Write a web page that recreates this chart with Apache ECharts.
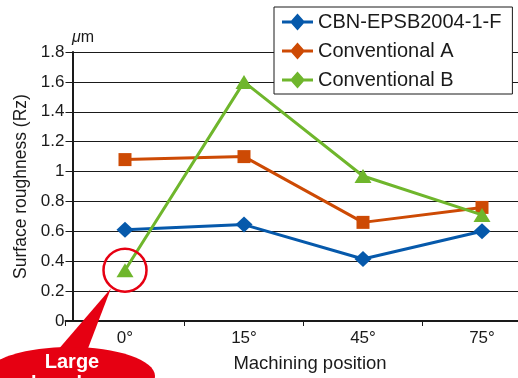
<!DOCTYPE html>
<html>
<head>
<meta charset="utf-8">
<script src="https://cdn.jsdelivr.net/npm/echarts@6/dist/echarts.min.js"></script>
<style>html,body{margin:0;padding:0;background:#fff}#c{width:518px;height:378px}</style>
</head>
<body>
<div id="c"></div>
<script>
const categories = ['0°', '15°', '45°', '75°'];
const cbnValues = [0.61, 0.645, 0.415, 0.60];
const convAValues = [1.08, 1.10, 0.66, 0.76];
const convBValues = [0.34, 1.60, 0.97, 0.71];
const yTicks = [0, 0.2, 0.4, 0.6, 0.8, 1, 1.2, 1.4, 1.6, 1.8];
const seriesNames = ['CBN-EPSB2004-1-F', 'Conventional A', 'Conventional B'];

const FONT = '"Liberation Sans", Arial, Helvetica, sans-serif';
const INK = '#1a1a1a';
const BLUE = '#0659ab', ORANGE = '#cd4a04', GREEN = '#6fb62c', RED = '#e60012';
const legendIcon = 'path://M0,7 L31,7 L31,10 L0,10 Z M15.5,0 L23,8.5 L15.5,17 L8,8.5 Z';

const chart = echarts.init(document.getElementById('c'), null, {renderer: 'canvas'});
const option = {
  animation: false,
  backgroundColor: '#fff',
  textStyle: {fontFamily: FONT, color: INK},
  title: {
    text: '{i|μ}m', left: 72, top: 30, padding: 0,
    textStyle: {fontFamily: FONT, fontSize: 16, fontWeight: 'normal', color: INK,
      rich: {i: {fontFamily: FONT, fontSize: 16, fontStyle: 'italic', color: INK}}}
  },
  grid: {left: 65.5, width: 476, top: 52, height: 269, containLabel: false, outerBoundsMode: 'none'},
  legend: {
    orient: 'vertical', left: 274, top: 7,
    padding: [5, 11, 4, 8], itemGap: 9, itemWidth: 31, itemHeight: 17,
    backgroundColor: '#fff', borderColor: INK, borderWidth: 1, borderRadius: 0,
    textStyle: {fontFamily: FONT, fontSize: 20, color: INK},
    data: seriesNames.map(n => ({name: n, icon: legendIcon})),
    z: 10
  },
  xAxis: {
    type: 'category', data: categories, boundaryGap: true,
    name: 'Machining position', nameLocation: 'middle', nameGap: 33,
    nameTextStyle: {fontFamily: FONT, fontSize: 18.5, color: INK, padding: [0, 0, 0, 13]},
    axisLine: {lineStyle: {color: INK, width: 2}},
    axisTick: {show: true, length: 5, lineStyle: {color: INK, width: 1}},
    axisLabel: {fontFamily: FONT, fontSize: 17, color: INK, margin: 9},
    splitLine: {show: false}
  },
  yAxis: {
    type: 'value', min: 0, max: 1.8, interval: 0.2, offset: -7,
    name: 'Surface roughness (Rz)', nameLocation: 'middle', nameGap: 39,
    nameTextStyle: {fontFamily: FONT, fontSize: 17.5, color: INK},
    axisLine: {show: true, lineStyle: {color: INK, width: 2}},
    axisTick: {show: true, length: 5, lineStyle: {color: INK, width: 1}},
    axisLabel: {fontFamily: FONT, fontSize: 17, color: INK, margin: 8,
      formatter: v => { const t = yTicks.find(x => Math.abs(x - v) < 1e-6); return String(t !== undefined ? t : v); }},
    splitLine: {show: true, lineStyle: {color: INK, width: 1}}
  },
  series: [
    {name: seriesNames[0], type: 'line', data: cbnValues, color: BLUE,
     symbol: 'diamond', symbolSize: [17, 16], showAllSymbol: true,
     lineStyle: {width: 3, color: BLUE}, itemStyle: {color: BLUE}, z: 3},
    {name: seriesNames[1], type: 'line', data: convAValues, color: ORANGE,
     symbol: 'rect', symbolSize: 13, showAllSymbol: true,
     lineStyle: {width: 3, color: ORANGE}, itemStyle: {color: ORANGE}, z: 3},
    {name: seriesNames[2], type: 'line', data: convBValues, color: GREEN,
     symbol: 'triangle', symbolSize: [17, 14], showAllSymbol: true,
     lineStyle: {width: 3, color: GREEN}, itemStyle: {color: GREEN}, z: 4}
  ]
};
chart.setOption(option);

// annotation around the low Conventional B point at 0°
const p = chart.convertToPixel({xAxisIndex: 0, yAxisIndex: 0}, [0, convBValues[0]]);
const cx = p[0], cy = p[1];
chart.setOption({
  graphic: [
    {type: 'circle', shape: {cx: cx, cy: cy, r: 21.5}, style: {fill: 'none', stroke: RED, lineWidth: 2.5}, z: 50},
    {type: 'polygon', shape: {points: [[cx - 14, cy + 18], [57, 351], [87, 351]]}, style: {fill: RED}, z: 50},
    {type: 'ellipse', shape: {cx: 70, cy: 376, rx: 85, ry: 29}, style: {fill: RED}, z: 50},
    {type: 'text', x: 72, y: 362, style: {text: 'Large', fill: '#fff', font: 'bold 20px ' + FONT, align: 'center', verticalAlign: 'middle'}, z: 51},
    {type: 'text', x: 72, y: 384, style: {text: 'value change', fill: '#fff', font: 'bold 20px ' + FONT, align: 'center', verticalAlign: 'middle'}, z: 51}
  ]
});
</script>
</body>
</html>
